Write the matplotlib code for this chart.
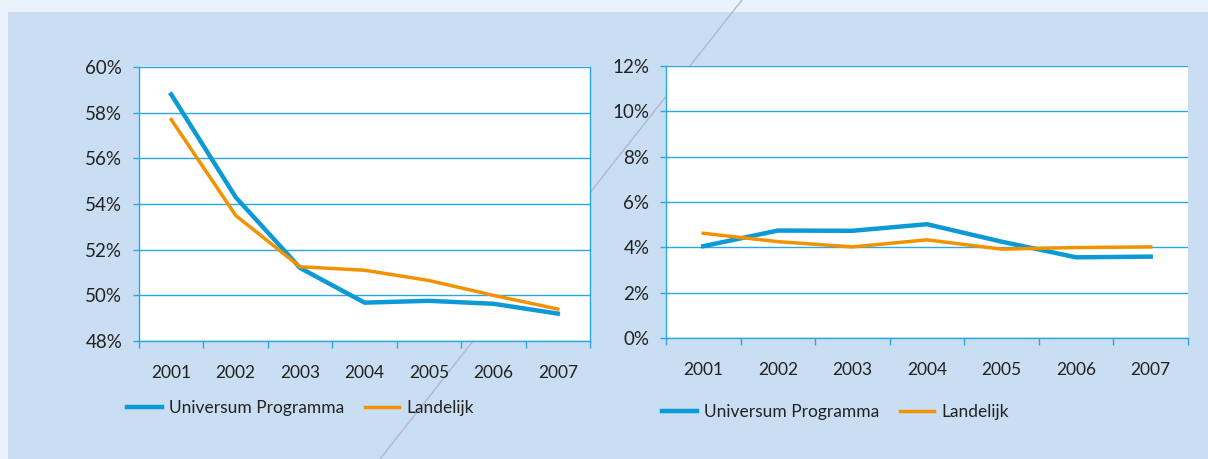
import matplotlib
matplotlib.use("Agg")
import matplotlib.pyplot as plt
from matplotlib.patches import Rectangle
from matplotlib.lines import Line2D
from matplotlib.ticker import FuncFormatter

plt.rcParams['font.family'] = ['Lato', 'DejaVu Sans']

years = ['2001', '2002', '2003', '2004', '2005', '2006', '2007']

# left chart (percent)
left_universum = [58.8, 54.3, 51.2, 49.68, 49.76, 49.63, 49.2]
left_landelijk = [57.7, 53.5, 51.25, 51.1, 50.65, 50.0, 49.4]

# right chart (percent)
right_universum = [4.05, 4.74, 4.73, 5.02, 4.25, 3.56, 3.59]
right_landelijk = [4.62, 4.25, 4.02, 4.33, 3.92, 3.99, 4.02]

labels = ['Universum Programma', 'Landelijk']

BLUE = '#0B9AD6'
ORANGE = '#F39200'
GRID = '#2BA8E0'
PANEL = '#C9DEF2'
OUTER = '#EAF2FB'
TEXT = '#222222'

W, H = 1208, 459
fig = plt.figure(figsize=(W / 100, H / 100), dpi=100, facecolor=OUTER)

# blue panel + diagonal decoration line
fig.patches.append(Rectangle((8 / W, 0), 1, 1 - 12 / H, transform=fig.transFigure,
                             facecolor=PANEL, edgecolor='none', zorder=-3))
fig.lines.append(Line2D([742 / W, 380 / W], [1, 0], transform=fig.transFigure,
                        color='#B3B5D2', lw=1.0, zorder=-2))


def px_axes(x0, x1, y0, y1):
    return fig.add_axes([x0 / W, 1 - y1 / H, (x1 - x0) / W, (y1 - y0) / H])


def style(ax, ymin, ymax, step, right_spine):
    x = list(range(len(years)))
    ax.set_facecolor('white')
    ax.set_xlim(-0.5, len(years) - 0.5)
    ax.set_ylim(ymin, ymax)
    ax.set_yticks([ymin + i * step for i in range(int(round((ymax - ymin) / step)) + 1)])
    ax.yaxis.set_major_formatter(FuncFormatter(lambda v, p: f'{v:.0f}%'))
    ax.grid(axis='y', color=GRID, lw=1.0, zorder=0)
    ax.set_axisbelow(True)
    ax.set_xticks([i - 0.5 for i in range(len(years) + 1)])
    ax.set_xticklabels([])
    ax.set_xticks(x, minor=True)
    ax.set_xticklabels(years, minor=True)
    ax.tick_params(axis='x', which='major', length=5, color=GRID, width=1, direction='out')
    ax.tick_params(axis='x', which='minor', length=0, pad=17, labelsize=12.5, labelcolor=TEXT)
    ax.tick_params(axis='y', length=4, color=GRID, width=1, pad=8, labelsize=13.5, labelcolor=TEXT)
    for s in ['left', 'bottom']:
        ax.spines[s].set_color(GRID)
        ax.spines[s].set_linewidth(1.0)
    ax.spines['top'].set_visible(False)
    ax.spines['right'].set_visible(right_spine)
    ax.spines['right'].set_color(GRID)
    ax.spines['right'].set_linewidth(1.0)


ax1 = px_axes(139, 590, 67, 341)
x = list(range(len(years)))
ax1.plot(x, left_universum, color=BLUE, lw=3.2, label=labels[0], zorder=3)
ax1.plot(x, left_landelijk, color=ORANGE, lw=2.5, label=labels[1], zorder=4)
style(ax1, 48, 60, 2, True)

ax2 = px_axes(666, 1188, 66, 338)
ax2.plot(x, right_universum, color=BLUE, lw=3.2, label=labels[0], zorder=3)
ax2.plot(x, right_landelijk, color=ORANGE, lw=2.5, label=labels[1], zorder=4)
style(ax2, 0, 12, 2, False)

for ax, anchor in [(ax1, (127 / W, 1 - 408 / H)), (ax2, (662 / W, 1 - 412 / H))]:
    leg = ax.legend(loc='center left', bbox_to_anchor=anchor, bbox_transform=fig.transFigure,
                    ncol=2, frameon=False, fontsize=12.5, handlelength=2.0, handletextpad=0.4,
                    columnspacing=1.2, borderpad=0, borderaxespad=0)
    for t in leg.get_texts():
        t.set_color(TEXT)

fig.savefig('out.png', dpi=100, facecolor=fig.get_facecolor())
